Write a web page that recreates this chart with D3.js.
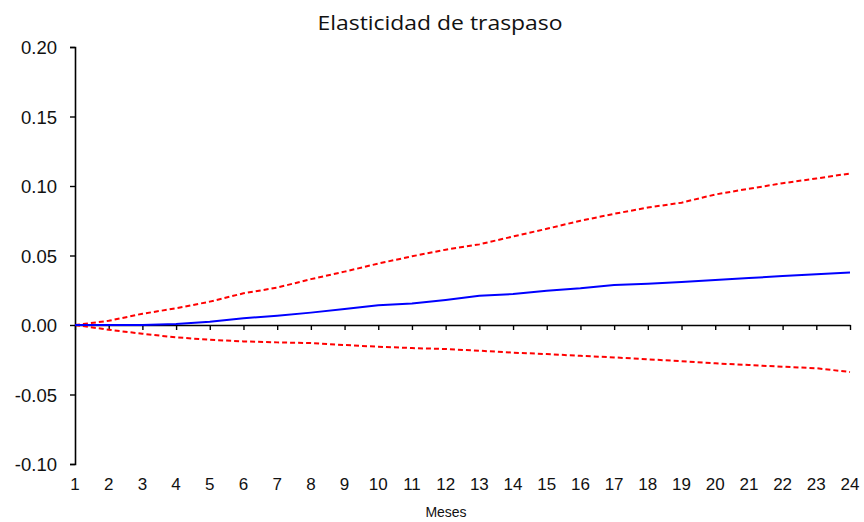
<!DOCTYPE html>
<html>
<head>
<meta charset="utf-8">
<script src="https://cdn.jsdelivr.net/npm/d3@7"></script>
<style>
  html, body { margin: 0; padding: 0; background: #fff; }
  svg { display: block; }
</style>
</head>
<body>
<svg id="chart" width="864" height="522"></svg>
<script>
// Months after the shock
const months = d3.range(1, 25);
// Point estimate of the pass-through elasticity
const response = [0.0000, 0.0000, 0.0000, 0.0007, 0.0024, 0.0048, 0.0067, 0.0089,
                  0.0115, 0.0142, 0.0154, 0.0180, 0.0211, 0.0223, 0.0247, 0.0264,
                  0.0288, 0.0297, 0.0310, 0.0324, 0.0338, 0.0352, 0.0365, 0.0378];
// Upper confidence band
const upperBand = [0.0000, 0.0030, 0.0081, 0.0120, 0.0168, 0.0228, 0.0269, 0.0330,
                   0.0384, 0.0442, 0.0494, 0.0542, 0.0580, 0.0637, 0.0692, 0.0750,
                   0.0800, 0.0845, 0.0880, 0.0939, 0.0980, 0.1020, 0.1054, 0.1090];
// Lower confidence band
const lowerBand = [0.0000, -0.0034, -0.0063, -0.0089, -0.0106, -0.0118, -0.0125, -0.0130,
                   -0.0144, -0.0156, -0.0166, -0.0173, -0.0185, -0.0199, -0.0209, -0.0222,
                   -0.0233, -0.0247, -0.0260, -0.0276, -0.0288, -0.0300, -0.0311, -0.0338];
const yTicks = [-0.10, -0.05, 0.00, 0.05, 0.10, 0.15, 0.20];

const title = "Elasticidad de traspaso";
const xTitle = "Meses";

const svg = d3.select("#chart");

const x = d3.scaleLinear().domain([1, 24]).range([75, 850]);
const y = d3.scaleLinear().domain([-0.10, 0.20]).range([464, 47]);

const tickFont = "Arial, 'Liberation Sans', sans-serif";

// Vertical axis
const yAxis = svg.append("g")
  .attr("transform", `translate(${x(1)},0)`)
  .call(d3.axisLeft(y).tickValues(yTicks).tickSize(5).tickPadding(13));
yAxis.select(".domain").attr("stroke", "#000").attr("stroke-width", 1.6);
yAxis.selectAll(".tick line").attr("stroke", "#000").attr("stroke-width", 1.4);
yAxis.selectAll(".tick text")
  .attr("fill", "#111").attr("dy", "0.36em")
  .style("font-family", tickFont).style("font-size", "18.5px")
  .text(d => d < 0 ? "-" + d3.format(".2f")(-d) : d3.format(".2f")(d));

// Horizontal axis drawn along the zero line
const xAxis = svg.append("g")
  .attr("transform", `translate(0,${y(0)})`)
  .call(d3.axisBottom(x).tickValues(months).tickFormat("").tickSize(5).tickSizeOuter(0));
xAxis.select(".domain").attr("stroke", "#000").attr("stroke-width", 1.6);
xAxis.selectAll(".tick line").attr("stroke", "#000").attr("stroke-width", 1.4);

// Month labels below the plot area
svg.append("g").selectAll("text")
  .data(months).join("text")
  .attr("x", d => x(d)).attr("y", 490)
  .attr("text-anchor", "middle")
  .attr("fill", "#111")
  .style("font-family", tickFont).style("font-size", "17px")
  .text(d => d);

const line = d3.line().x((d, i) => x(months[i])).y(d => y(d));

// Confidence bands
[upperBand, lowerBand].forEach(band => {
  svg.append("path")
    .datum(band)
    .attr("d", line)
    .attr("fill", "none")
    .attr("stroke", "#ff0000")
    .attr("stroke-width", 2)
    .attr("stroke-dasharray", "5,3");
});

// Point estimate
svg.append("path")
  .datum(response)
  .attr("d", line)
  .attr("fill", "none")
  .attr("stroke", "#0000ff")
  .attr("stroke-width", 2);

// Title
svg.append("text")
  .attr("x", 440).attr("y", 30)
  .attr("text-anchor", "middle")
  .attr("fill", "#111")
  .attr("textLength", 245).attr("lengthAdjust", "spacingAndGlyphs")
  .style("font-family", "'Open Sans', Lato, sans-serif").style("font-size", "20px")
  .text(title);

// Axis title
svg.append("text")
  .attr("x", 446).attr("y", 517)
  .attr("text-anchor", "middle")
  .attr("fill", "#111")
  .style("font-family", tickFont).style("font-size", "14px")
  .text(xTitle);
</script>
</body>
</html>
